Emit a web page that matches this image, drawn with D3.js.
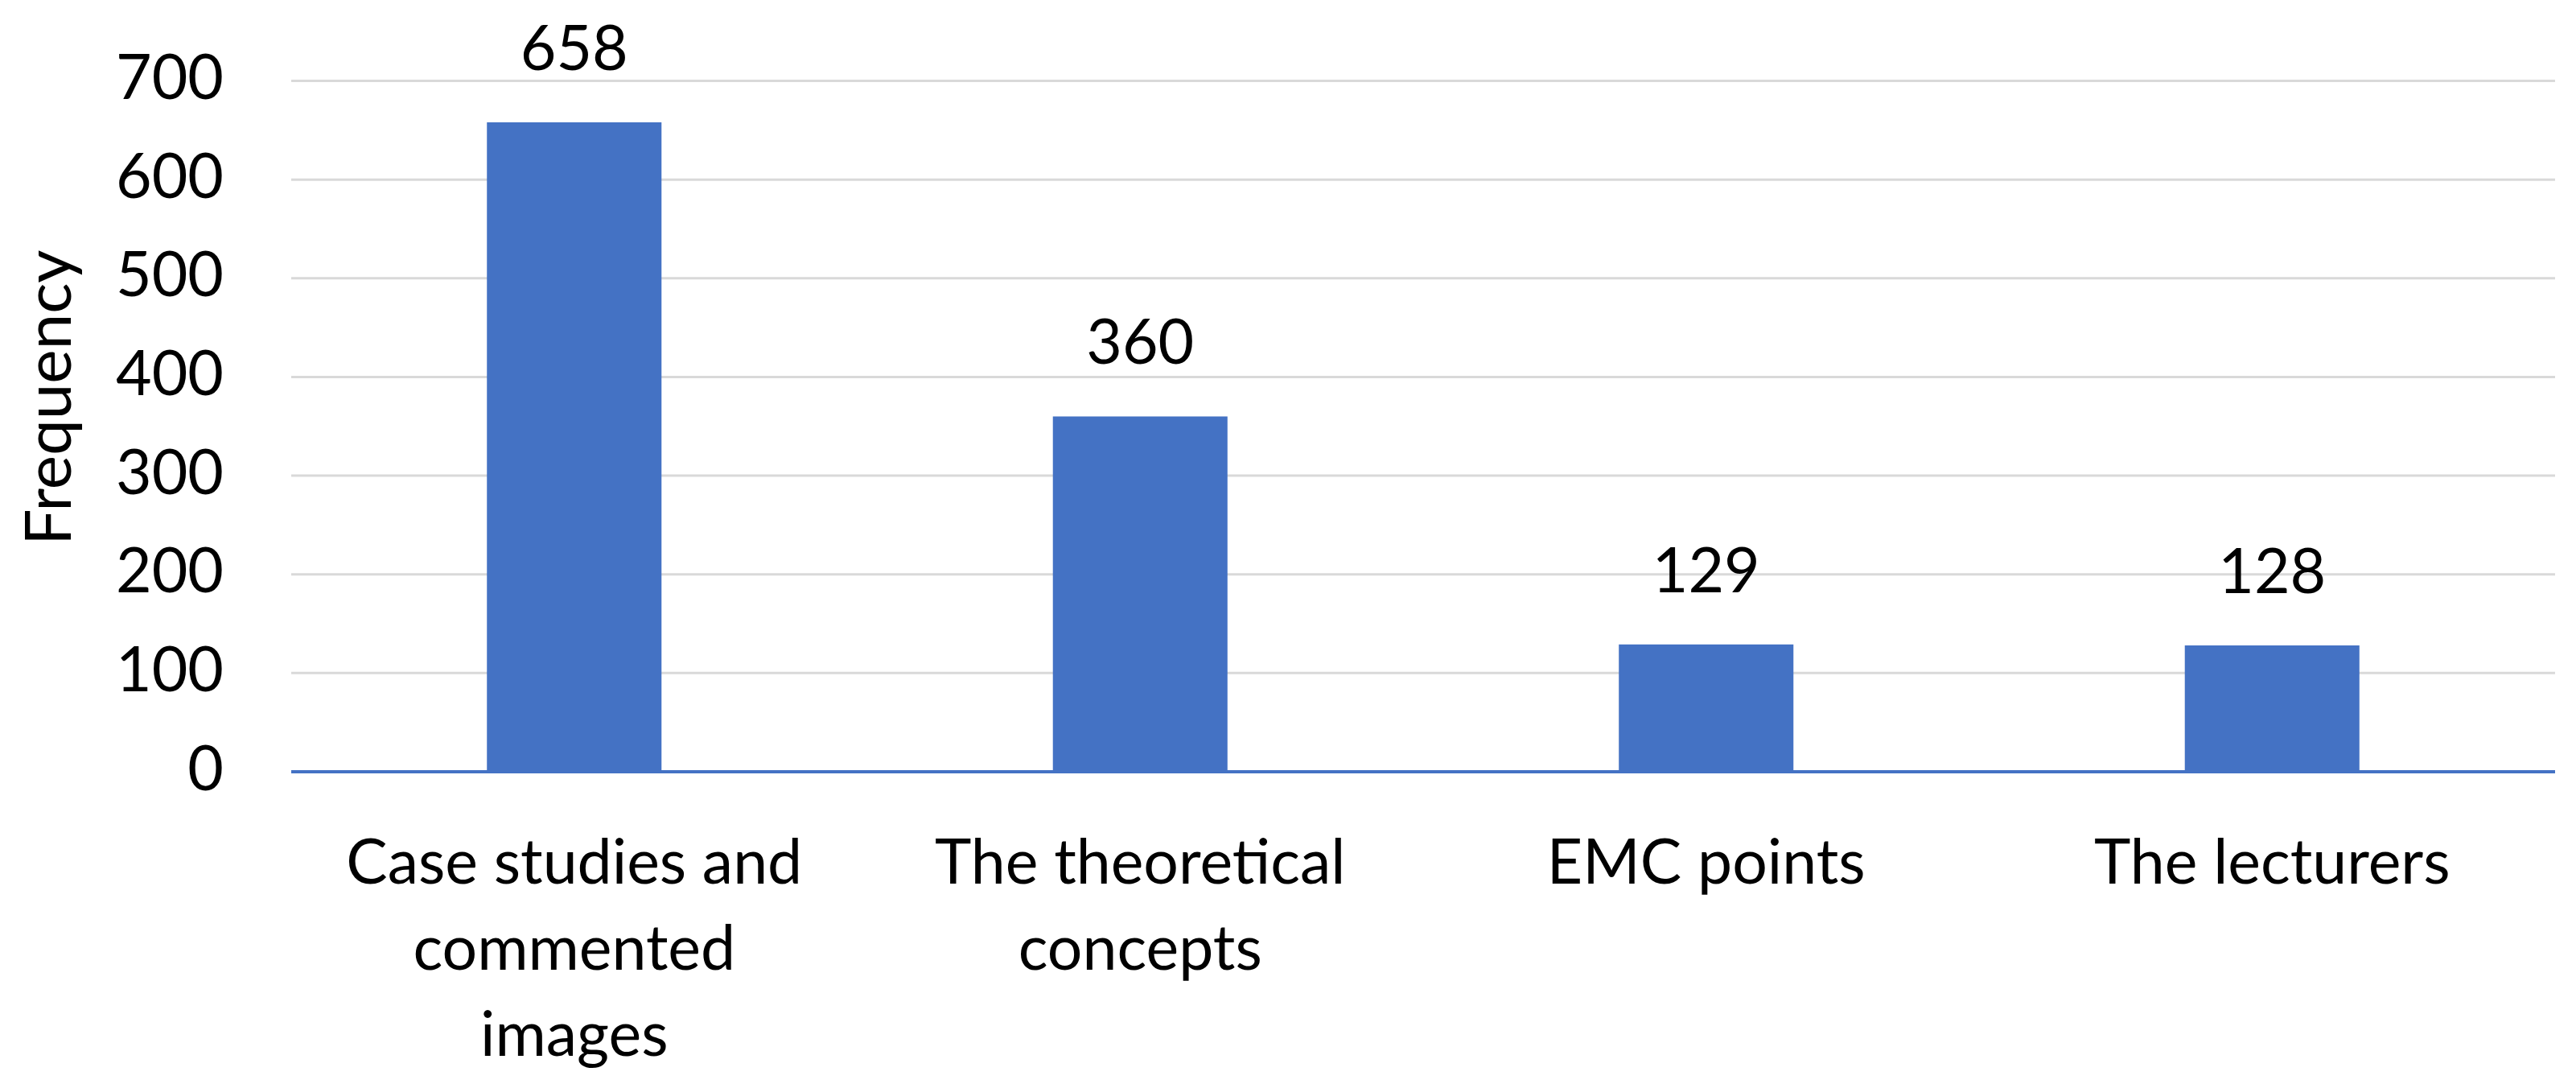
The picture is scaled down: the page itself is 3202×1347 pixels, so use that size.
<!DOCTYPE html>
<html>
<head>
<meta charset="utf-8">
<script src="https://cdn.jsdelivr.net/npm/d3@7"></script>
<style>
  html, body { margin: 0; padding: 0; background: #ffffff; }
  svg { display: block; }
  text { font-family: Lato, "Open Sans", sans-serif; fill: #000; }
</style>
</head>
<body>
<svg id="chart" width="3202" height="1347"></svg>
<script>
const categories = ["Case studies and commented images", "The theoretical concepts", "EMC points", "The lecturers"];
const values = [658, 360, 129, 128];
const yTicks = [0, 100, 200, 300, 400, 500, 600, 700];
const yTitle = "Frequency";

const W = 3202, H = 1347;
const plot = { left: 362, right: 3176, top: 100.5, bottom: 959 };
const fontSize = 77;

const svg = d3.select("#chart");

const x = d3.scaleBand().domain(categories).range([plot.left, plot.right]).paddingInner(0).paddingOuter(0);
const y = d3.scaleLinear().domain([0, 700]).range([plot.bottom, plot.top]);
const barW = x.bandwidth() * 0.3085;

// gridlines
svg.append("g")
  .selectAll("line")
  .data(yTicks.filter(d => d !== 0))
  .join("line")
  .attr("x1", plot.left).attr("x2", plot.right)
  .attr("y1", d => y(d)).attr("y2", d => y(d))
  .attr("stroke", "#d9d9d9").attr("stroke-width", 3);

// y tick labels via axis
const yAxis = d3.axisLeft(y).tickValues(yTicks).tickSize(0).tickPadding(0);
const yg = svg.append("g").attr("transform", `translate(278,0)`).call(yAxis);
yg.select(".domain").remove();
yg.selectAll("text")
  .attr("font-family", "Lato, 'Open Sans', sans-serif")
  .attr("font-size", fontSize)
  .attr("fill", "#000")
  .attr("x", 0)
  .attr("dy", null)
  .attr("y", 22)
  .attr("text-anchor", "end");

// bars
svg.append("g")
  .selectAll("rect")
  .data(values)
  .join("rect")
  .attr("x", (d, i) => x(categories[i]) + x.bandwidth() / 2 - barW / 2)
  .attr("width", barW)
  .attr("y", d => y(d))
  .attr("height", d => y(0) - y(d))
  .attr("fill", "#4472c4");

// x axis line
svg.append("line")
  .attr("x1", plot.left).attr("x2", plot.right)
  .attr("y1", y(0)).attr("y2", y(0))
  .attr("stroke", "#4472c4").attr("stroke-width", 4);

// data labels
svg.append("g")
  .selectAll("text")
  .data(values)
  .join("text")
  .attr("x", (d, i) => x(categories[i]) + x.bandwidth() / 2)
  .attr("y", d => y(d) - 65)
  .attr("text-anchor", "middle")
  .attr("font-size", fontSize)
  .text(d => d);

// category labels with wrapping
const maxW = 625, lineH = 107, firstBase = 1098;
const cg = svg.append("g");
categories.forEach((c, i) => {
  const t = cg.append("text")
    .attr("text-anchor", "middle")
    .attr("font-size", fontSize)
    .attr("x", x(c) + x.bandwidth() / 2)
    .attr("y", firstBase);
  const words = c.split(" ");
  let lines = [], cur = [];
  const probe = svg.append("text").attr("font-size", fontSize);
  words.forEach(w => {
    const test = cur.concat([w]).join(" ");
    probe.text(test);
    if (cur.length && probe.node().getComputedTextLength() > maxW) {
      lines.push(cur.join(" "));
      cur = [w];
    } else {
      cur.push(w);
    }
  });
  if (cur.length) lines.push(cur.join(" "));
  probe.remove();
  lines.forEach((ln, k) => {
    t.append("tspan")
      .attr("x", x(c) + x.bandwidth() / 2)
      .attr("y", firstBase + k * lineH)
      .text(ln);
  });
});

// y axis title
svg.append("text")
  .attr("transform", `translate(88, 494) rotate(-90)`)
  .attr("text-anchor", "middle")
  .attr("font-size", 80)
  .text(yTitle);
</script>
</body>
</html>
